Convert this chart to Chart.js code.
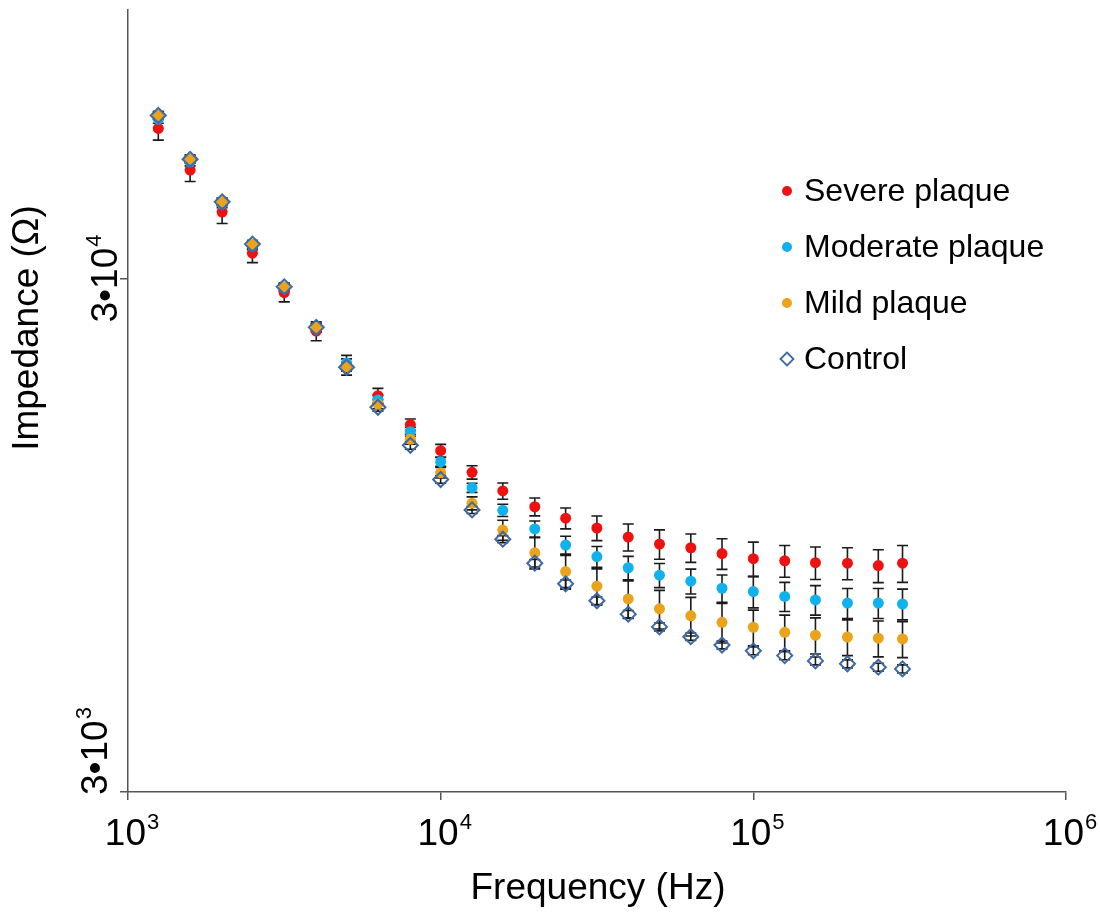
<!DOCTYPE html>
<html>
<head>
<meta charset="utf-8">
<script src="https://cdn.jsdelivr.net/npm/chart.js@4.4.0/dist/chart.umd.min.js"></script>
<style>
  html, body { margin: 0; padding: 0; background: #fff; }
  #wrap { width: 1100px; height: 913px; }
</style>
</head>
<body>
<div id="wrap"><canvas id="chart" width="1100" height="913"></canvas></div>
<script>
// Frequencies (Hz)
const freqs = [1250, 1580, 2000, 2500, 3160, 4000, 5000, 6300, 8000, 10000,
  12600, 15800, 20000, 25100, 31600, 39800, 50100, 63100, 79400, 100000,
  126000, 158000, 200000, 251000, 300000];

// Impedance means (Ohm)
const severe = [58800, 48800, 40400, 33600, 28150, 23700, 20350, 17740, 15580, 13860,
  12580, 11570, 10780, 10240, 9800, 9410, 9120, 8970, 8740, 8540,
  8460, 8390, 8370, 8280, 8370];
const moderate = [61300, 50600, 41900, 34700, 28750, 24000, 20540, 17400, 15090, 13190,
  11740, 10610, 9760, 9080, 8620, 8200, 7930, 7720, 7480, 7370,
  7210, 7100, 7000, 7000, 6970];
const mild = [62300, 51300, 42350, 35000, 28900, 24100, 20200, 17080, 14590, 12560,
  10950, 9710, 8770, 8060, 7550, 7130, 6820, 6610, 6420, 6280,
  6140, 6060, 6010, 5980, 5960];
const control = [62300, 51200, 42300, 35000, 28900, 24100, 20150, 16840, 14200, 12180,
  10630, 9320, 8370, 7630, 7070, 6660, 6290, 6020, 5800, 5650,
  5530, 5400, 5330, 5250, 5210];

// Error (Ohm, +/-)
const severeErr = [3000, 2440, 2020, 1380, 1130, 1000, 900, 590, 400, 400,
  380, 420, 430, 480, 540, 570, 600, 570, 600, 660,
  600, 610, 600, 610, 690];
const moderateErr = [1100, 900, 700, 580, 480, 420, 380, 380, 300, 260,
  240, 290, 350, 365, 400, 430, 430, 430, 460, 520,
  470, 470, 470, 470, 480];
const mildErr = [1100, 900, 700, 580, 480, 420, 380, 350, 320, 300,
  320, 440, 610, 610, 610, 600, 590, 570, 570, 500,
  490, 490, 480, 480, 480];
const controlErr = [1100, 900, 700, 580, 480, 420, 360, 300, 250, 200,
  170, 150, 140, 130, 120, 110, 110, 100, 100, 100,
  100, 95, 95, 95, 95];

// Tick labels
const xTickValues = [1000, 10000, 100000, 1000000];
const xTickLabels = [['10', '3'], ['10', '4'], ['10', '5'], ['10', '6']];
const yTickValues = [3000, 30000];
const yTickLabels = [['3\u202210', '3'], ['3\u202210', '4']];

const seriesNames = ['Severe plaque', 'Moderate plaque', 'Mild plaque', 'Control'];

const FONT = "'Liberation Sans', Arial, sans-serif";
const AXIS = '#555555';

const toPoints = (vals) => vals.map((v, i) => ({ x: freqs[i], y: v }));

// Barras de error, dibujadas antes de los marcadores
const errorBars = {
  id: 'errorBars',
  beforeDatasetsDraw(chart) {
    const { ctx, scales: { x, y } } = chart;
    ctx.save();
    ctx.strokeStyle = '#1a1a1a';
    ctx.lineWidth = 1.6;
    chart.data.datasets.forEach((ds) => {
      ds.data.forEach((p, i) => {
        const e = ds.errors[i];
        const px = x.getPixelForValue(p.x);
        const top = y.getPixelForValue(p.y + e);
        const bot = y.getPixelForValue(p.y - e);
        ctx.beginPath();
        ctx.moveTo(px, top); ctx.lineTo(px, bot);
        ctx.moveTo(px - 5.5, top); ctx.lineTo(px + 5.5, top);
        ctx.moveTo(px - 5.5, bot); ctx.lineTo(px + 5.5, bot);
        ctx.stroke();
      });
    });
    ctx.restore();
  }
};

// Etiquetas de ejes con exponentes, títulos y leyenda
const axisText = {
  id: 'axisText',
  afterDraw(chart) {
    const { ctx, scales: { x, y } } = chart;
    const big = '37px ' + FONT;
    const sup = '22px ' + FONT;
    ctx.save();
    ctx.fillStyle = '#000';
    ctx.textBaseline = 'alphabetic';
    ctx.textAlign = 'left';

    xTickValues.forEach((v, i) => {
      const [base, exp] = xTickLabels[i];
      ctx.font = big;
      const wb = ctx.measureText(base).width;
      ctx.font = sup;
      const ws = ctx.measureText(exp).width;
      const left = x.getPixelForValue(v) + 4 - (wb + ws + 1) / 2;
      ctx.font = big;
      ctx.fillText(base, left, 845);
      ctx.font = sup;
      ctx.fillText(exp, left + wb + 1, 829);
    });

    // la etiqueta inferior queda algo más a la izquierda, como en el original
    const yLabelX = [107, 117];
    yTickValues.forEach((v, i) => {
      const [base, exp] = yTickLabels[i];
      ctx.font = big;
      const wb = ctx.measureText(base).width;
      ctx.font = sup;
      const ws = ctx.measureText(exp).width;
      const w = wb + ws + 1;
      const cy = Math.min(y.getPixelForValue(v), 795 - w / 2);
      ctx.save();
      ctx.translate(yLabelX[i], cy);
      ctx.rotate(-Math.PI / 2);
      ctx.font = big;
      ctx.fillText(base, -w / 2, 0);
      ctx.font = sup;
      ctx.fillText(exp, -w / 2 + wb + 1, -16);
      ctx.restore();
    });

    // Títulos
    ctx.font = big;
    ctx.textAlign = 'center';
    ctx.fillText('Frequency (Hz)', 598, 899);
    ctx.save();
    ctx.translate(38, 328);
    ctx.rotate(-Math.PI / 2);
    ctx.fillText('Impedance (\u03A9)', 0, 0);
    ctx.restore();

    // Leyenda
    ctx.font = '32px ' + FONT;
    ctx.textAlign = 'left';
    ctx.textBaseline = 'middle';
    chart.data.datasets.forEach((ds, i) => {
      const ly = 191 + i * 56;
      const lx = 787;
      ctx.beginPath();
      if (ds.pointStyle === 'rectRot') {
        const r = 6.5;
        ctx.moveTo(lx - r, ly); ctx.lineTo(lx, ly - r);
        ctx.lineTo(lx + r, ly); ctx.lineTo(lx, ly + r);
        ctx.closePath();
        ctx.strokeStyle = ds.borderColor;
        ctx.lineWidth = 1.8;
        ctx.stroke();
      } else {
        ctx.arc(lx, ly, 5, 0, Math.PI * 2);
        ctx.fillStyle = ds.backgroundColor;
        ctx.fill();
      }
      ctx.fillStyle = '#000';
      ctx.fillText(ds.label, 804, ly + 1);
    });
    ctx.restore();
  }
};

const dot = (label, vals, errs, color, order) => ({
  label,
  data: toPoints(vals),
  errors: errs,
  pointStyle: 'circle',
  pointRadius: 5.5,
  backgroundColor: color,
  borderColor: color,
  borderWidth: 0,
  order
});

const datasets = [
  dot(seriesNames[0], severe, severeErr, '#EE1111', 3),
  dot(seriesNames[1], moderate, moderateErr, '#10B1EC', 2),
  dot(seriesNames[2], mild, mildErr, '#EBA31B', 1),
  {
    label: seriesNames[3],
    data: toPoints(control),
    errors: controlErr,
    pointStyle: 'rectRot',
    pointRadius: 7.5,
    backgroundColor: 'rgba(0,0,0,0)',
    borderColor: '#3F69A3',
    borderWidth: 2,
    order: 0
  }
];

const axisGrid = {
  display: true,
  drawOnChartArea: false,
  drawTicks: true,
  tickLength: 8,
  color: AXIS,
  lineWidth: 1.5
};

new Chart(document.getElementById('chart'), {
  type: 'scatter',
  data: { datasets },
  options: {
    responsive: false,
    animation: false,
    devicePixelRatio: 1,
    layout: { padding: { top: 10, right: 34, left: 0, bottom: 0 } },
    plugins: { legend: { display: false }, tooltip: { enabled: false } },
    scales: {
      x: {
        type: 'logarithmic',
        min: 1000,
        max: 1000000,
        ticks: { display: false },
        grid: axisGrid,
        border: { display: true, color: AXIS, width: 1.5 },
        afterBuildTicks: (s) => { s.ticks = xTickValues.map((v) => ({ value: v })); },
        afterFit: (s) => { s.height = 121; }
      },
      y: {
        type: 'logarithmic',
        min: 3000,
        max: 100000,
        ticks: { display: false },
        grid: axisGrid,
        border: { display: true, color: AXIS, width: 1.5 },
        afterBuildTicks: (s) => { s.ticks = yTickValues.map((v) => ({ value: v })); },
        afterFit: (s) => { s.width = 128; }
      }
    }
  },
  plugins: [errorBars, axisText]
});
</script>
</body>
</html>
